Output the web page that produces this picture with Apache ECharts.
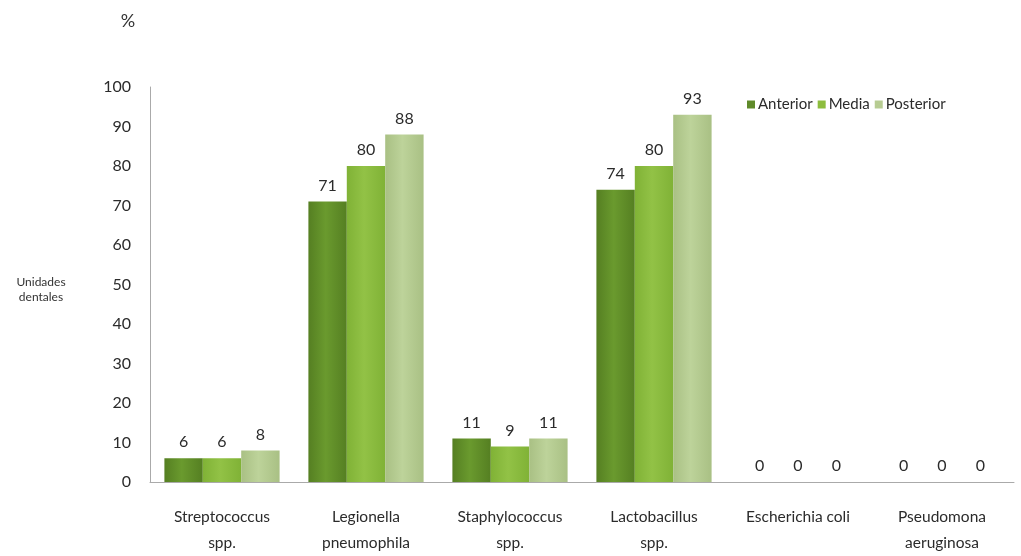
<!DOCTYPE html>
<html>
<head>
<meta charset="utf-8">
<script src="https://cdn.jsdelivr.net/npm/echarts@6/dist/echarts.min.js"></script>
<style>
  html, body { margin: 0; padding: 0; background: #fff; }
  #chart { width: 1021px; height: 556px; }
</style>
</head>
<body>
<div id="chart"></div>
<script>
// Bacterial presence (%) by dental region
const categories = [
  'Streptococcus\nspp.',
  'Legionella\npneumophila',
  'Staphylococcus\nspp.',
  'Lactobacillus\nspp.',
  'Escherichia coli',
  'Pseudomona\naeruginosa'
];
const seriesNames = ['Anterior', 'Media', 'Posterior'];
const anterior  = [6, 71, 11, 74, 0, 0];
const media     = [6, 80, 9, 80, 0, 0];
const posterior = [8, 88, 11, 93, 0, 0];
const yTicks = { min: 0, max: 100, step: 10 };

const FONT = 'Lato, "Open Sans", sans-serif';

// Horizontal shaded fill for each bar: darker edges, lighter middle
function shade(edge, mid) {
  return new echarts.graphic.LinearGradient(0, 0, 1, 0, [
    { offset: 0, color: edge },
    { offset: 0.45, color: mid },
    { offset: 1, color: edge }
  ]);
}
const fills = [
  shade('#557f22', '#6a9a2e'),
  shade('#80b236', '#92c246'),
  shade('#a9c084', '#bdd39a')
];
const legendColors = ['#5f8a2a', '#8dbd3e', '#b7cc92'];

const chart = echarts.init(document.getElementById('chart'));

function barSeries(name, data, i) {
  return {
    name: name,
    type: 'bar',
    data: data,
    barGap: '0%',
    barCategoryGap: '20%',
    itemStyle: { color: fills[i] },
    label: {
      show: true,
      position: 'top',
      distance: 8,
      fontFamily: FONT,
      fontSize: 16,
      color: '#2b2b2b'
    }
  };
}

chart.setOption({
  animation: false,
  backgroundColor: '#fff',
  textStyle: { fontFamily: FONT },
  graphic: [
    {
      type: 'text', x: 128, y: 12,
      style: { text: '%', font: '18px ' + FONT, fill: '#333', align: 'center' }
    },
    {
      type: 'text', x: 41, y: 275,
      style: {
        text: 'Unidades\ndentales', font: '12px ' + FONT, fill: '#333',
        align: 'center', lineHeight: 15
      }
    }
  ],
  legend: {
    data: seriesNames.map((n, i) => ({ name: n, itemStyle: { color: legendColors[i] } })),
    top: 92,
    left: 742,
    itemWidth: 8,
    itemHeight: 8,
    itemGap: 5,
    icon: 'rect',
    textStyle: { fontFamily: FONT, fontSize: 15, color: '#2b2b2b', padding: [0, 0, 0, -2] }
  },
  grid: { left: 150, right: 7, top: 87, bottom: 72, containLabel: false },
  xAxis: {
    type: 'category',
    data: categories,
    axisLine: { lineStyle: { color: '#aaa', width: 1 } },
    axisTick: { show: false },
    axisLabel: {
      fontFamily: FONT, fontSize: 15.5, color: '#2b2b2b',
      margin: 22, lineHeight: 26, interval: 0
    }
  },
  yAxis: {
    type: 'value',
    min: yTicks.min,
    max: yTicks.max,
    interval: yTicks.step,
    axisLine: { show: true, lineStyle: { color: '#aaa', width: 1 } },
    axisTick: { show: false },
    splitLine: { show: false },
    axisLabel: { fontFamily: FONT, fontSize: 16, color: '#2b2b2b', margin: 19 }
  },
  series: [
    barSeries(seriesNames[0], anterior, 0),
    barSeries(seriesNames[1], media, 1),
    barSeries(seriesNames[2], posterior, 2)
  ]
});
</script>
</body>
</html>
